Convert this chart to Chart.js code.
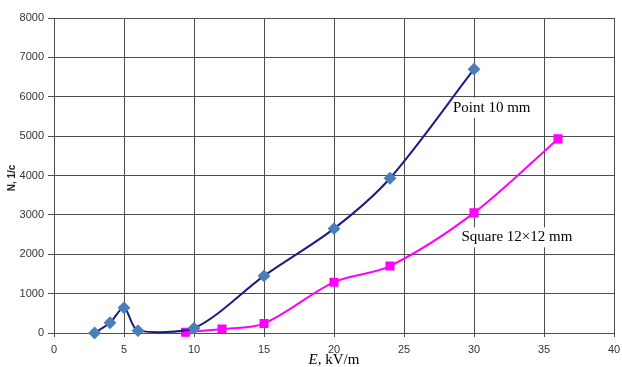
<!DOCTYPE html>
<html lang="en">
<head>
  <meta charset="UTF-8">
  <title>N vs E</title>
  <script src="https://cdn.jsdelivr.net/npm/chart.js"></script>
  <style>
    html, body { margin: 0; padding: 0; background: #fff; }
    .chart-box { width: 622px; height: 367px; }
  </style>
</head>
<body>

<div class="chart-box">
  <canvas id="lineChart" width="622" height="367"></canvas>
</div>

<script>
  // values
  const pointE = [2.9, 4, 5, 6, 10, 15, 20, 24, 30];
  const pointN = [0, 260, 640, 60, 120, 1450, 2650, 3930, 6700];
  const squareE = [9.4, 12, 15, 20, 24, 30, 36];
  const squareN = [20, 100, 240, 1290, 1700, 3050, 4930];
  const xTicks = [0, 5, 10, 15, 20, 25, 30, 35, 40];
  const yTicks = [0, 1000, 2000, 3000, 4000, 5000, 6000, 7000, 8000];

  const toXY = (xs, ys) => xs.map((x, i) => ({ x: x, y: ys[i] }));

  // white label boxes go under the lines, text on top of them
  const labelsPlugin = {
    id: 'labels',
    beforeDatasetsDraw(chart) {
      const ctx = chart.ctx;
      const xs = chart.scales.x, ys = chart.scales.y;
      ctx.save();
      ctx.font = '15px "Liberation Serif", "Times New Roman", serif';
      ctx.textBaseline = 'middle';
      [['Point 10 mm', 28.5, 5720], ['Square 12\u00d712 mm', 29.1, 2430]].forEach(t => {
        const px = xs.getPixelForValue(t[1]);
        const py = ys.getPixelForValue(t[2]);
        const w = ctx.measureText(t[0]).width;
        ctx.fillStyle = '#fff';
        ctx.fillRect(px - 3, py - 10, w + 6, 20);
        ctx.fillStyle = '#000';
        ctx.fillText(t[0], px, py);
      });
      ctx.restore();
    },
    afterDraw(chart) {
      const ctx = chart.ctx;
      ctx.save();
      // x title: italic E, plain rest
      const cx = (chart.chartArea.left + chart.chartArea.right) / 2;
      ctx.textBaseline = 'alphabetic';
      ctx.font = 'italic 15px "Liberation Serif", serif';
      const wE = ctx.measureText('E').width;
      ctx.font = '15px "Liberation Serif", serif';
      const wRest = ctx.measureText(', kV/m').width;
      const sx = cx - (wE + wRest) / 2;
      ctx.fillStyle = '#000';
      ctx.font = 'italic 15px "Liberation Serif", serif';
      ctx.fillText('E', sx, 364);
      ctx.font = '15px "Liberation Serif", serif';
      ctx.fillText(', kV/m', sx + wE, 364);

      // y title
      ctx.translate(15, 178);
      ctx.rotate(-Math.PI / 2);
      ctx.textAlign = 'center';
      ctx.font = 'bold 10px "Liberation Sans", Arial, sans-serif';
      ctx.fillStyle = '#222';
      ctx.fillText('N, 1/c', 0, 0);
      ctx.restore();
    }
  };

  new Chart(document.getElementById('lineChart').getContext('2d'), {
    type: 'scatter',
    data: {
      datasets: [{
        label: 'Point 10 mm',
        data: toXY(pointE, pointN),
        showLine: true,
        borderColor: '#1c1c85',
        borderWidth: 2,
        backgroundColor: '#4a7ebb',
        pointBorderColor: '#4a7ebb',
        pointStyle: 'rectRot',
        pointRadius: 5,
        tension: 0.3,
        clip: 6
      }, {
        label: 'Square 12x12 mm',
        data: toXY(squareE, squareN),
        showLine: true,
        borderColor: '#ff00ff',
        borderWidth: 2,
        backgroundColor: '#ff00ff',
        pointBorderColor: '#ff00ff',
        pointStyle: 'rect',
        pointRadius: 5,
        tension: 0.3,
        clip: 6
      }]
    },
    options: {
      responsive: false,
      animation: false,
      layout: { padding: { left: 0, right: 8, top: 18, bottom: 0 } },
      plugins: { legend: { display: false }, tooltip: { enabled: false } },
      scales: {
        x: {
          type: 'linear',
          min: 0, max: 40,
          afterBuildTicks: s => { s.ticks = xTicks.map(v => ({ value: v })); },
          afterFit: s => { s.height = 34; s.paddingRight = 0; s.paddingLeft = 0; },
          grid: { color: '#4d4d4d', lineWidth: 1, tickLength: 4 },
          border: { color: '#4d4d4d' },
          ticks: { color: '#333', font: { family: '"Liberation Sans", Arial, sans-serif', size: 11 }, padding: 6, maxRotation: 0 }
        },
        y: {
          min: 0, max: 8000,
          afterBuildTicks: s => { s.ticks = yTicks.map(v => ({ value: v })); },
          afterFit: s => { s.width = 54; s.paddingTop = 0; s.paddingBottom = 0; },
          grid: { color: '#4d4d4d', lineWidth: 1, tickLength: 6 },
          border: { color: '#4d4d4d' },
          ticks: {
            color: '#333',
            font: { family: '"Liberation Sans", Arial, sans-serif', size: 11 },
            padding: 4,
            callback: v => String(v)
          }
        }
      }
    },
    plugins: [labelsPlugin]
  });
</script>

</body>
</html>
